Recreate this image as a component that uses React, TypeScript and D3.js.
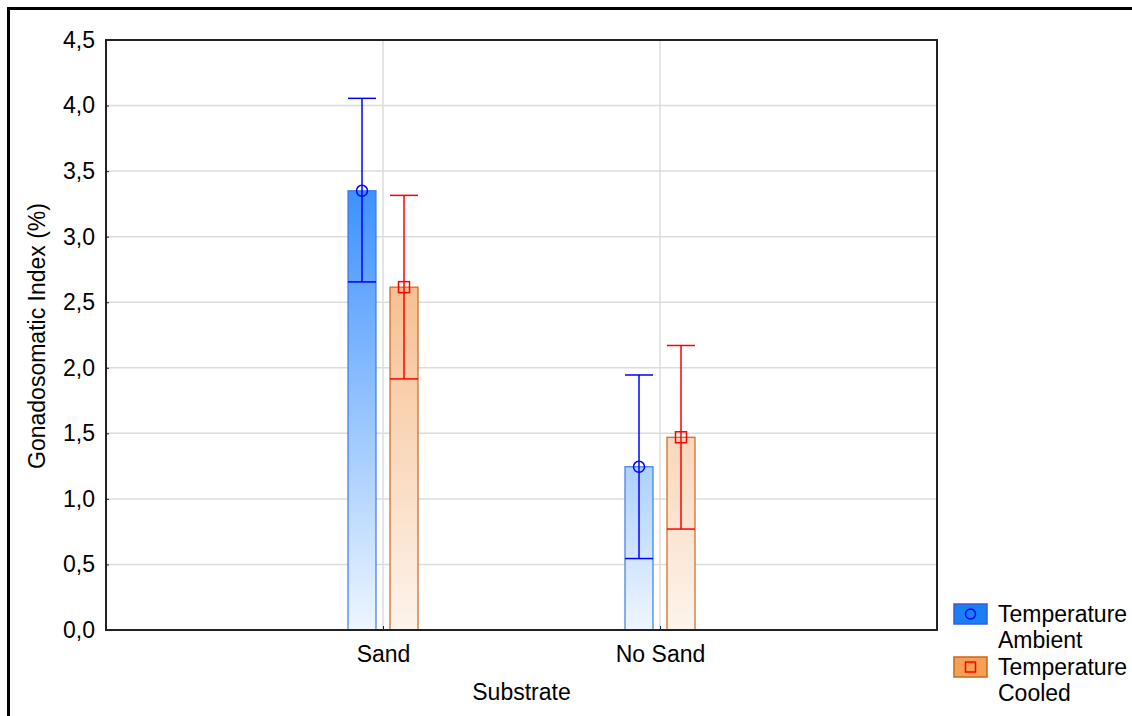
import React, { useEffect, useRef } from "react";
import * as d3 from "d3";

const categories = ["Sand", "No Sand"];
const seriesNames = ["Temperature Ambient", "Temperature Cooled"];
const ambientMean = [3.35, 1.245];
const ambientLow = [2.655, 0.545];
const ambientHigh = [4.055, 1.945];
const cooledMean = [2.615, 1.47];
const cooledLow = [1.915, 0.77];
const cooledHigh = [3.315, 2.17];
const yTicks = [0, 0.5, 1, 1.5, 2, 2.5, 3, 3.5, 4, 4.5];

export default function App() {
    const ref = useRef<SVGSVGElement>(null);

    useEffect(() => {
        const width = 1132;
        const height = 716;
        const margin = { top: 40, left: 106, right: 195, bottom: 86 };
        const svg = d3.select(ref.current);
        svg.selectAll("*").remove();
        const font = "Liberation Sans, Arial, sans-serif";
        const fs = 23;

        const x = d3.scalePoint()
            .domain(categories)
            .range([margin.left, width - margin.right])
            .padding(1);
        const y = d3.scaleLinear()
            .domain([0, 4.5])
            .range([height - margin.bottom, margin.top]);

        const defs = svg.append("defs");
        const grads = [
            { id: "gBlue", top: "#006eff", bottom: "#eef6fe" },
            { id: "gOrange", top: "#f29a4f", bottom: "#fdf4ec" },
        ];
        grads.forEach(g => {
            const lg = defs.append("linearGradient")
                .attr("id", g.id)
                .attr("gradientUnits", "userSpaceOnUse")
                .attr("x1", 0).attr("x2", 0)
                .attr("y1", y(0)).attr("y2", y(4.5));
            lg.append("stop").attr("offset", 0).attr("stop-color", g.bottom);
            lg.append("stop").attr("offset", 1).attr("stop-color", g.top);
        });

        // outer frame
        svg.append("path")
            .attr("d", `M8.5,${height + 5} L8.5,8.5 L${width + 5},8.5`)
            .attr("fill", "none")
            .attr("stroke", "#000")
            .attr("stroke-width", 3);

        // grid
        svg.append("g").selectAll("line").data(yTicks.slice(1, -1)).enter().append("line")
            .attr("x1", margin.left).attr("x2", width - margin.right)
            .attr("y1", d => y(d)).attr("y2", d => y(d))
            .attr("stroke", "#dcdcdc").attr("stroke-width", 1.5);
        svg.append("g").selectAll("line").data(categories).enter().append("line")
            .attr("x1", d => x(d)!).attr("x2", d => x(d)!)
            .attr("y1", margin.top).attr("y2", height - margin.bottom)
            .attr("stroke", "#dcdcdc").attr("stroke-width", 1.5);

        const barW = 28;
        const offset = 21;
        const series = [
            { mean: ambientMean, low: ambientLow, high: ambientHigh, dx: -offset, fill: "url(#gBlue)", stroke: "#3c7be0", line: "#0000ff", shape: "circle" },
            { mean: cooledMean, low: cooledLow, high: cooledHigh, dx: offset, fill: "url(#gOrange)", stroke: "#c8661e", line: "#ff0000", shape: "square" },
        ];

        series.forEach(s => {
            const g = svg.append("g");
            categories.forEach((c, i) => {
                const cx = x(c)! + s.dx;
                g.append("rect")
                    .attr("x", cx - barW / 2)
                    .attr("y", y(s.mean[i]))
                    .attr("width", barW)
                    .attr("height", y(0) - y(s.mean[i]))
                    .attr("fill", s.fill)
                    .attr("stroke", s.stroke)
                    .attr("stroke-width", 1.2);
                g.append("line")
                    .attr("x1", cx).attr("x2", cx)
                    .attr("y1", y(s.low[i])).attr("y2", y(s.high[i]))
                    .attr("stroke", s.line).attr("stroke-width", 1.5);
                [s.low[i], s.high[i]].forEach(v => {
                    g.append("line")
                        .attr("x1", cx - barW / 2).attr("x2", cx + barW / 2)
                        .attr("y1", y(v)).attr("y2", y(v))
                        .attr("stroke", s.line).attr("stroke-width", 1.5);
                });
                if (s.shape === "circle") {
                    g.append("circle")
                        .attr("cx", cx).attr("cy", y(s.mean[i])).attr("r", 5.5)
                        .attr("fill", "none").attr("stroke", s.line).attr("stroke-width", 1.5);
                } else {
                    g.append("rect")
                        .attr("x", cx - 5.5).attr("y", y(s.mean[i]) - 5.5)
                        .attr("width", 11).attr("height", 11)
                        .attr("fill", "none").attr("stroke", s.line).attr("stroke-width", 1.5);
                }
            });
        });

        // plot frame
        svg.append("rect")
            .attr("x", margin.left).attr("y", margin.top)
            .attr("width", width - margin.left - margin.right)
            .attr("height", height - margin.top - margin.bottom)
            .attr("fill", "none").attr("stroke", "#222").attr("stroke-width", 2);

        // axes
        const yAxis = svg.append("g")
            .attr("transform", `translate(${margin.left},0)`)
            .call(d3.axisLeft(y).tickValues(yTicks).tickSize(3).tickPadding(8)
                .tickFormat(d => d3.format(".1f")(d as number).replace(".", ",")));
        yAxis.select(".domain").remove();
        yAxis.selectAll("text").attr("font-size", fs).attr("font-family", font).attr("fill", "#000");
        yAxis.selectAll("line").attr("stroke", "#222").attr("transform", "translate(3,0)");

        const xAxis = svg.append("g")
            .attr("transform", `translate(0,${height - margin.bottom})`)
            .call(d3.axisBottom(x).tickSize(-4).tickPadding(16));
        xAxis.select(".domain").remove();
        xAxis.selectAll("text").attr("font-size", fs).attr("font-family", font).attr("fill", "#000")
            .attr("dy", "0.71em");
        xAxis.selectAll("line").attr("stroke", "#222");

        svg.append("text")
            .attr("x", (margin.left + width - margin.right) / 2)
            .attr("y", 700)
            .attr("text-anchor", "middle")
            .attr("font-size", fs).attr("font-family", font)
            .text("Substrate");

        svg.append("text")
            .attr("transform", `translate(45,336) rotate(-90)`)
            .attr("text-anchor", "middle")
            .attr("font-size", fs).attr("font-family", font)
            .text("Gonadosomatic Index (%)");

        // legend
        const legend = [
            { fill: "#1a7ff5", stroke: "#3c5bd8", line: "#0000ff", shape: "circle", y: 604 },
            { fill: "#f6a055", stroke: "#c8661e", line: "#ff0000", shape: "square", y: 657 },
        ];
        legend.forEach((l, i) => {
            const g = svg.append("g");
            g.append("rect")
                .attr("x", 954).attr("y", l.y).attr("width", 33).attr("height", 20)
                .attr("fill", l.fill).attr("stroke", l.stroke).attr("stroke-width", 1.5);
            if (l.shape === "circle") {
                g.append("circle").attr("cx", 970.5).attr("cy", l.y + 10).attr("r", 5)
                    .attr("fill", "none").attr("stroke", l.line).attr("stroke-width", 1.5);
            } else {
                g.append("rect").attr("x", 965.5).attr("y", l.y + 5).attr("width", 10).attr("height", 10)
                    .attr("fill", "none").attr("stroke", l.line).attr("stroke-width", 1.5);
            }
            const words = seriesNames[i].split(" ");
            g.append("text")
                .attr("x", 998).attr("y", l.y + 18)
                .attr("font-size", fs).attr("font-family", font)
                .text(words[0]);
            g.append("text")
                .attr("x", 998).attr("y", l.y + 44)
                .attr("font-size", fs).attr("font-family", font)
                .text(words[1]);
        });
    }, []);

    return (
        <svg ref={ref} width={1132} height={716}
            style={{ position: "absolute", left: 0, top: 0, background: "#fff" }} />
    );
}
